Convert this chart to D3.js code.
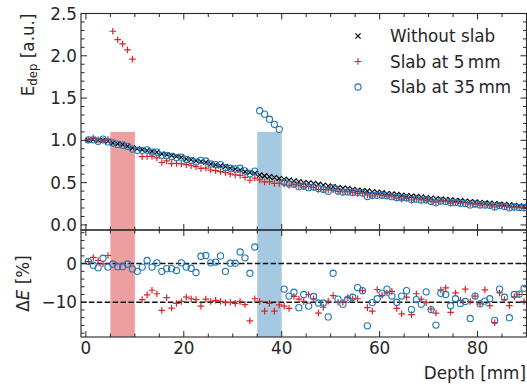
<!DOCTYPE html>
<html><head><meta charset="utf-8">
<script src="https://cdn.jsdelivr.net/npm/d3@7"></script>
<style>
body{margin:0;background:#fff}
text{font-family:"DejaVu Sans",sans-serif;fill:#262626}
</style>
</head><body><svg id="c" width="527" height="385"></svg>
<script>
const depth = [0.5,1.5,2.5,3.5,4.5,5.5,6.5,7.5,8.5,9.5,10.5,11.5,12.5,13.5,14.5,15.5,16.5,17.5,18.5,19.5,
20.5,21.5,22.5,23.5,24.5,25.5,26.5,27.5,28.5,29.5,30.5,31.5,32.5,33.5,34.5,35.5,36.5,37.5,38.5,39.5,
40.5,41.5,42.5,43.5,44.5,45.5,46.5,47.5,48.5,49.5,50.5,51.5,52.5,53.5,54.5,55.5,56.5,57.5,58.5,59.5,
60.5,61.5,62.5,63.5,64.5,65.5,66.5,67.5,68.5,69.5,70.5,71.5,72.5,73.5,74.5,75.5,76.5,77.5,78.5,79.5,
80.5,81.5,82.5,83.5,84.5,85.5,86.5,87.5,88.5,89.5];

const withoutSlab = [1.00,1.01,1.00,1.00,0.99,0.97,0.96,0.95,0.93,0.91,0.90,0.89,0.88,0.87,0.86,0.84,0.83,0.82,0.81,0.80,
0.78,0.77,0.76,0.75,0.74,0.72,0.71,0.70,0.69,0.67,0.66,0.65,0.63,0.62,0.61,0.59,0.58,0.57,0.56,0.55,
0.54,0.53,0.52,0.51,0.50,0.495,0.49,0.48,0.47,0.46,0.45,0.44,0.435,0.43,0.42,0.41,0.405,0.40,0.39,0.385,
0.38,0.37,0.365,0.36,0.35,0.345,0.34,0.335,0.33,0.32,0.315,0.31,0.305,0.30,0.295,0.29,0.285,0.28,0.275,0.27,
0.265,0.26,0.255,0.25,0.245,0.24,0.235,0.23,0.225,0.22];

const slab5 = [1.005,1.026,1.008,0.999,1.011,2.29,2.19,2.14,2.07,1.96,null,0.807,0.809,0.810,0.793,0.738,0.757,0.726,0.727,0.722,
0.712,0.700,0.689,0.668,0.672,0.649,0.643,0.631,0.620,0.603,0.592,0.586,0.563,0.528,0.554,0.532,0.509,0.511,0.491,0.491,
0.481,0.469,0.476,0.463,0.451,0.455,0.445,0.419,0.417,0.415,0.413,0.396,0.392,0.392,0.382,0.373,0.377,0.354,0.342,0.359,
0.349,0.342,0.339,0.318,0.305,0.315,0.295,0.309,0.300,0.288,0.278,0.270,0.284,0.281,0.258,0.268,0.258,0.262,0.248,0.247,
0.237,0.242,0.227,0.212,0.226,0.218,0.209,0.210,0.207,0.198];

const slab35 = [1.006,1.006,0.989,1.014,0.981,0.969,0.952,0.942,0.929,0.897,0.882,0.882,0.887,0.862,0.862,0.823,0.819,0.809,0.795,0.802,
0.773,0.761,0.743,0.764,0.756,0.721,0.713,0.714,0.676,0.671,0.661,0.670,0.639,0.605,0.636,1.35,1.31,1.25,1.19,1.13,
0.504,0.485,0.482,0.452,0.460,0.441,0.448,0.431,0.422,0.397,0.439,0.400,0.389,0.390,0.383,0.385,0.377,0.336,0.351,0.350,
0.351,0.346,0.334,0.324,0.321,0.321,0.300,0.304,0.295,0.297,0.278,0.261,0.282,0.276,0.263,0.264,0.256,0.253,0.236,0.247,
0.237,0.235,0.232,0.213,0.229,0.219,0.202,0.212,0.207,0.206];

const dE5 = [0.5,1.6,0.8,-0.1,2.1,null,null,null,null,null,null,-9.3,-8.1,-6.9,-7.8,-12.1,-8.8,-11.5,-10.3,-9.8,
-8.7,-9.1,-9.3,-11.0,-9.2,-9.8,-9.5,-9.8,-10.1,-10.0,-10.3,-9.8,-10.6,-14.8,-9.1,-9.8,-12.3,-10.3,-12.3,-10.7,
-11.0,-11.6,-8.5,-9.2,-9.8,-8.0,-9.1,-12.8,-11.3,-9.7,-8.3,-10.0,-10.0,-8.8,-9.1,-9.1,-7.0,-11.4,-12.3,-6.7,
-8.2,-7.6,-7.2,-11.6,-13.0,-8.7,-13.2,-7.8,-9.2,-10.1,-11.8,-12.8,-6.8,-6.3,-12.6,-7.6,-9.5,-6.6,-9.8,-8.4,
-10.4,-6.8,-10.9,-15.3,-7.6,-9.3,-10.9,-8.6,-8.0,-9.8];

const dE35 = [0.6,-0.4,-1.1,1.4,-0.9,-0.1,-0.8,-0.8,-0.1,-1.4,-2.0,-0.9,0.8,-0.9,0.2,-2.0,-1.3,-1.3,-1.8,0.2,
-0.9,-1.2,-2.3,1.9,2.1,0.2,0.4,2.0,-2.0,0.1,0.1,3.0,1.5,-2.5,4.3,null,null,null,null,null,
-6.6,-8.4,-7.4,-11.4,-8.0,-11.0,-8.5,-10.2,-10.2,-13.8,-2.5,-9.2,-10.5,-9.2,-8.7,-6.2,-7.0,-16.1,-10.1,-9.1,
-7.7,-6.6,-8.4,-10.0,-8.4,-7.0,-11.9,-9.3,-10.5,-7.3,-11.9,-15.9,-7.7,-8.0,-10.9,-9.1,-10.3,-9.8,-14.2,-8.4,
-10.4,-9.7,-9.1,-14.7,-6.6,-8.7,-14.0,-8.0,-7.9,-6.4];

const slabStart = [5, 35];
const slabEnd = [10, 40];
const slabTopValue = 1.1;
const xTicks = [0, 20, 40, 60, 80];
const yTopTicks = [0, 0.5, 1.0, 1.5, 2.0, 2.5];
const yBotTicks = [-10, 0];
const refLines = [0, -10];
const legendLabels = ["Without slab", "Slab at 5\u2009mm", "Slab at 35\u2009mm"];

const RED = "#d62728", BLUE = "#1f77b4", INK = "#262626";
const FS = 16.8;
const svg = d3.select("#c");
const L = 81, R = 526.5, T1 = 13.5, B1 = 230, T2 = 230, B2 = 337;

const x = d3.scaleLinear().domain([-1, 90]).range([L, R]);
const yTop = d3.scaleLinear().domain([-0.06, 2.5]).range([B1, T1]);
const yBot = d3.scaleLinear().domain([-19, 8.7]).range([B2, T2]);

const defs = svg.append("defs");
defs.append("clipPath").attr("id","cp1").append("rect").attr("x",L).attr("y",T1).attr("width",R-L).attr("height",B1-T1);
defs.append("clipPath").attr("id","cp2").append("rect").attr("x",L).attr("y",T2).attr("width",R-L).attr("height",B2-T2);

const colors = [RED, BLUE];
const alphas = [0.45, 0.4];
const g1 = svg.append("g").attr("clip-path","url(#cp1)");
const g2 = svg.append("g").attr("clip-path","url(#cp2)");
slabStart.forEach((s,k) => {
  g1.append("rect").attr("x", x(s)).attr("width", x(slabEnd[k]) - x(s))
    .attr("y", yTop(slabTopValue)).attr("height", B1 - yTop(slabTopValue))
    .attr("fill", colors[k]).attr("fill-opacity", alphas[k]);
  g2.append("rect").attr("x", x(s)).attr("width", x(slabEnd[k]) - x(s))
    .attr("y", T2).attr("height", B2 - T2)
    .attr("fill", colors[k]).attr("fill-opacity", alphas[k]);
});

refLines.forEach(v => {
  g2.append("line").attr("x1", L).attr("x2", R).attr("y1", yBot(v)).attr("y2", yBot(v))
    .attr("stroke", "#111").attr("stroke-width", 1.5).attr("stroke-dasharray", "5.5,2.4");
});

const xPath = "M-2.6,-2.6L2.6,2.6M-2.6,2.6L2.6,-2.6";
const pPath = "M-3.3,0H3.3M0,-3.3V3.3";
const R_O = 3.1;
function pairs(xs, ys){ return xs.map((d,i)=>[d, ys[i]]).filter(d=>d[1]!==null); }
function drawX(g, xs, ys, ysc){
  g.selectAll(null).data(pairs(xs,ys)).join("path")
   .attr("d", xPath).attr("transform", d=>`translate(${x(d[0])},${ysc(d[1])})`)
   .attr("stroke", "#000").attr("stroke-width", 1.15).attr("fill","none");
}
function drawPlus(g, xs, ys, ysc){
  g.selectAll(null).data(pairs(xs,ys)).join("path")
   .attr("d", pPath).attr("transform", d=>`translate(${x(d[0])},${ysc(d[1])})`)
   .attr("stroke", RED).attr("stroke-width", 1.2).attr("fill","none");
}
function drawO(g, xs, ys, ysc){
  g.selectAll(null).data(pairs(xs,ys)).join("circle")
   .attr("cx", d=>x(d[0])).attr("cy", d=>ysc(d[1])).attr("r", R_O)
   .attr("stroke", BLUE).attr("stroke-width", 1.1).attr("fill","none");
}
drawX(g1, depth, withoutSlab, yTop);
drawPlus(g1, depth, slab5, yTop);
drawO(g1, depth, slab35, yTop);
drawPlus(g2, depth, dE5, yBot);
drawO(g2, depth, dE35, yBot);

function frame(t, b){
  svg.append("rect").attr("x", L).attr("y", t).attr("width", R-L).attr("height", b-t)
    .attr("fill","none").attr("stroke", INK).attr("stroke-width", 1.1);
}
frame(T1, B1); frame(T2, B2);

function ticksX(t, b){
  const minor = d3.range(0, 91, 5);
  minor.forEach(v => {
    const major = xTicks.includes(v);
    const len = major ? 6 : 3.5;
    const px = x(v);
    svg.append("line").attr("x1",px).attr("x2",px).attr("y1",b).attr("y2",b-len).attr("stroke",INK).attr("stroke-width",1);
    svg.append("line").attr("x1",px).attr("x2",px).attr("y1",t).attr("y2",t+len).attr("stroke",INK).attr("stroke-width",1);
  });
}
function ticksY(ysc, majors, step, lo, hi){
  const n = Math.round((hi - lo)/step);
  for (let k=0;k<=n;k++){
    const v = +(lo + k*step).toFixed(4);
    const major = majors.some(m => Math.abs(m - v) < 1e-6);
    const len = major ? 6 : 3.5;
    const py = ysc(v);
    svg.append("line").attr("x1",L).attr("x2",L+len).attr("y1",py).attr("y2",py).attr("stroke",INK).attr("stroke-width",1);
    svg.append("line").attr("x1",R).attr("x2",R-len).attr("y1",py).attr("y2",py).attr("stroke",INK).attr("stroke-width",1);
  }
}
ticksX(T1, B1); ticksX(T2, B2);
ticksY(yTop, yTopTicks, 0.1, 0, 2.5);
ticksY(yBot, yBotTicks, 2, -18, 8);

yTopTicks.forEach(v => {
  svg.append("text").attr("x", L-4).attr("y", yTop(v)).attr("dy","0.36em")
    .attr("text-anchor","end").attr("font-size",FS).text(d3.format(".1f")(v));
});
yBotTicks.forEach(v => {
  svg.append("text").attr("x", L-4).attr("y", yBot(v)).attr("dy","0.36em")
    .attr("text-anchor","end").attr("font-size",FS).text(v < 0 ? "\u2212" + Math.abs(v) : String(v));
});
xTicks.forEach(v => {
  svg.append("text").attr("x", x(v)).attr("y", B2 + 16.5)
    .attr("text-anchor","middle").attr("font-size",FS).text(String(v));
});

svg.append("text").attr("x", R-0.5).attr("y", 379).attr("text-anchor","end").attr("font-size",FS).text("Depth [mm]");
const yl = svg.append("text").attr("transform", `translate(33.5,${T1}) rotate(-90)`)
  .attr("text-anchor","end").attr("font-size",FS);
yl.append("tspan").text("E");
yl.append("tspan").attr("font-size", FS*0.7).attr("dy", 3.5).text("dep");
yl.append("tspan").attr("dy", -3.5).text(" [a.u.]");
const yl2 = svg.append("text").attr("transform", `translate(28.5,${(T2+B2)/2}) rotate(-90)`)
  .attr("text-anchor","middle").attr("font-size",FS);
yl2.append("tspan").text("\u0394");
yl2.append("tspan").attr("font-style","italic").text("E");
yl2.append("tspan").text(" [%]");

const lx = 358, ly0 = 36, dy = 25.5;
legendLabels.forEach((lab, k) => {
  const cy = ly0 + k*dy;
  if (k === 0) svg.append("path").attr("d", xPath).attr("transform",`translate(${lx},${cy})`).attr("stroke","#000").attr("stroke-width",1.15);
  if (k === 1) svg.append("path").attr("d", pPath).attr("transform",`translate(${lx},${cy})`).attr("stroke",RED).attr("stroke-width",1.2);
  if (k === 2) svg.append("circle").attr("cx",lx).attr("cy",cy).attr("r",R_O).attr("stroke",BLUE).attr("stroke-width",1.1).attr("fill","none");
  svg.append("text").attr("x", 390).attr("y", cy).attr("dy","0.36em").attr("font-size",FS).text(lab);
});
</script>
</body></html>
